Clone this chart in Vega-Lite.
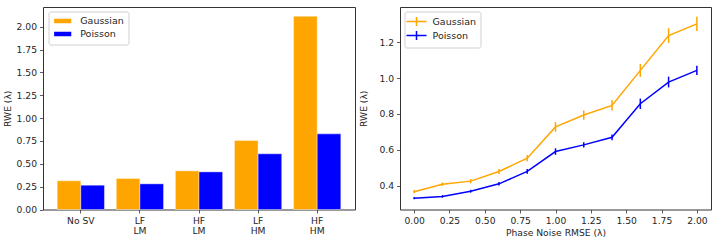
{
  "$schema": "https://vega.github.io/schema/vega-lite/v6.json",
  "padding": {"left": 2, "top": 6, "right": 7, "bottom": 4},
  "spacing": 3,
  "resolve": {"scale": {"color": "independent"}, "legend": {"color": "independent"}},
  "config": {
    "font": "DejaVu Sans",
    "view": {"stroke": "#333333", "strokeWidth": 1},
    "axis": {
      "domain": false, "grid": false,
      "tickColor": "#333333", "tickSize": 3.5, "tickWidth": 0.8,
      "labelFont": "DejaVu Sans", "labelFontSize": 9.2, "labelColor": "#262626", "labelPadding": 3,
      "titleFont": "DejaVu Sans", "titleFontSize": 9.2, "titleFontWeight": "normal", "titleColor": "#262626"
    },
    "legend": {
      "labelFont": "DejaVu Sans", "labelFontSize": 9.5, "labelColor": "#262626",
      "fillColor": "rgba(255,255,255,0.8)", "strokeColor": "#d0d0d0", "cornerRadius": 2,
      "padding": 4, "rowPadding": 0
    }
  },
  "hconcat": [
    {
      "width": 312,
      "height": 202.5,
      "data": {"values": [
        {"cond": "No SV", "noise": "Gaussian", "rwe": 0.314},
        {"cond": "No SV", "noise": "Poisson", "rwe": 0.266},
        {"cond": "LF LM", "noise": "Gaussian", "rwe": 0.339},
        {"cond": "LF LM", "noise": "Poisson", "rwe": 0.281},
        {"cond": "HF LM", "noise": "Gaussian", "rwe": 0.423},
        {"cond": "HF LM", "noise": "Poisson", "rwe": 0.412},
        {"cond": "LF HM", "noise": "Gaussian", "rwe": 0.755},
        {"cond": "LF HM", "noise": "Poisson", "rwe": 0.61},
        {"cond": "HF HM", "noise": "Gaussian", "rwe": 2.116},
        {"cond": "HF HM", "noise": "Poisson", "rwe": 0.828}
      ]},
      "mark": {"type": "bar", "stroke": "white", "strokeWidth": 0.6, "strokeOpacity": 0.7},
      "encoding": {
        "x": {
          "field": "cond", "type": "nominal", "sort": null,
          "scale": {"paddingInner": 0.2, "paddingOuter": 0.24},
          "axis": {"title": null, "labelAngle": 0, "labelLineHeight": 10.5,
                   "labelExpr": "datum.label == 'No SV' ? datum.label : split(datum.label, ' ')"}
        },
        "xOffset": {"field": "noise", "type": "nominal", "sort": ["Gaussian", "Poisson"],
                    "scale": {"paddingInner": 0, "paddingOuter": 0}},
        "y": {
          "field": "rwe", "type": "quantitative",
          "scale": {"domain": [0, 2.217], "nice": false},
          "axis": {"title": "RWE (λ)", "titlePadding": 4, "format": ".2f",
                   "values": [0, 0.25, 0.5, 0.75, 1, 1.25, 1.5, 1.75, 2]}
        },
        "color": {
          "field": "noise", "type": "nominal",
          "scale": {"domain": ["Gaussian", "Poisson"], "range": ["#FFA500", "#0000FF"]},
          "legend": {"title": null, "orient": "none", "legendX": 5.5, "legendY": 4.5,
                     "symbolType": "M-2,-0.65H2V0.65H-2Z", "symbolSize": 87,
                     "symbolOffset": 4.7, "labelOffset": 12}
        }
      }
    },
    {
      "width": 311,
      "height": 202.5,
      "data": {"values": [
        {"x": 0.0, "noise": "Gaussian", "rwe": 0.367, "err": 0.009},
        {"x": 0.2, "noise": "Gaussian", "rwe": 0.409, "err": 0.01},
        {"x": 0.4, "noise": "Gaussian", "rwe": 0.426, "err": 0.012},
        {"x": 0.6, "noise": "Gaussian", "rwe": 0.48, "err": 0.014},
        {"x": 0.8, "noise": "Gaussian", "rwe": 0.554, "err": 0.017},
        {"x": 1.0, "noise": "Gaussian", "rwe": 0.728, "err": 0.027},
        {"x": 1.2, "noise": "Gaussian", "rwe": 0.794, "err": 0.026},
        {"x": 1.4, "noise": "Gaussian", "rwe": 0.848, "err": 0.028},
        {"x": 1.6, "noise": "Gaussian", "rwe": 1.043, "err": 0.036},
        {"x": 1.8, "noise": "Gaussian", "rwe": 1.237, "err": 0.041},
        {"x": 2.0, "noise": "Gaussian", "rwe": 1.302, "err": 0.039},
        {"x": 0.0, "noise": "Poisson", "rwe": 0.331, "err": 0.006},
        {"x": 0.2, "noise": "Poisson", "rwe": 0.341, "err": 0.007},
        {"x": 0.4, "noise": "Poisson", "rwe": 0.37, "err": 0.008},
        {"x": 0.6, "noise": "Poisson", "rwe": 0.411, "err": 0.01},
        {"x": 0.8, "noise": "Poisson", "rwe": 0.48, "err": 0.013},
        {"x": 1.0, "noise": "Poisson", "rwe": 0.591, "err": 0.018},
        {"x": 1.2, "noise": "Poisson", "rwe": 0.628, "err": 0.014},
        {"x": 1.4, "noise": "Poisson", "rwe": 0.67, "err": 0.016},
        {"x": 1.6, "noise": "Poisson", "rwe": 0.857, "err": 0.029},
        {"x": 1.8, "noise": "Poisson", "rwe": 0.978, "err": 0.03},
        {"x": 2.0, "noise": "Poisson", "rwe": 1.043, "err": 0.026}
      ]},
      "encoding": {
        "x": {
          "field": "x", "type": "quantitative",
          "scale": {"domain": [-0.1, 2.1], "nice": false, "zero": false},
          "axis": {"title": "Phase Noise RMSE (λ)", "titlePadding": 3, "format": ".2f",
                   "values": [0, 0.25, 0.5, 0.75, 1, 1.25, 1.5, 1.75, 2]}
        },
        "color": {
          "field": "noise", "type": "nominal",
          "scale": {"domain": ["Gaussian", "Poisson"], "range": ["#FFA500", "#0000FF"]},
          "legend": {"title": null, "orient": "none", "legendX": 4.5, "legendY": 4.5,
                     "symbolType": "M-2,0H2M0,-0.9V0.9", "symbolSize": 100,
                     "symbolStrokeWidth": 1.5, "symbolFillColor": "transparent",
                     "symbolOffset": 2, "labelOffset": 10, "rowPadding": -5}
        }
      },
      "layer": [
        {
          "mark": {"type": "line", "strokeWidth": 1.5},
          "encoding": {
            "y": {
              "field": "rwe", "type": "quantitative", "title": "RWE (λ)",
              "scale": {"domain": [0.268, 1.396], "nice": false, "zero": false},
              "axis": {"title": "RWE (λ)", "titlePadding": 10, "format": ".1f",
                       "values": [0.4, 0.6, 0.8, 1.0, 1.2]}
            }
          }
        },
        {
          "mark": {"type": "errorbar", "ticks": false, "thickness": 1.5},
          "encoding": {
            "y": {"field": "rwe", "type": "quantitative", "title": "RWE (λ)"},
            "yError": {"field": "err"}
          }
        }
      ]
    }
  ]
}
